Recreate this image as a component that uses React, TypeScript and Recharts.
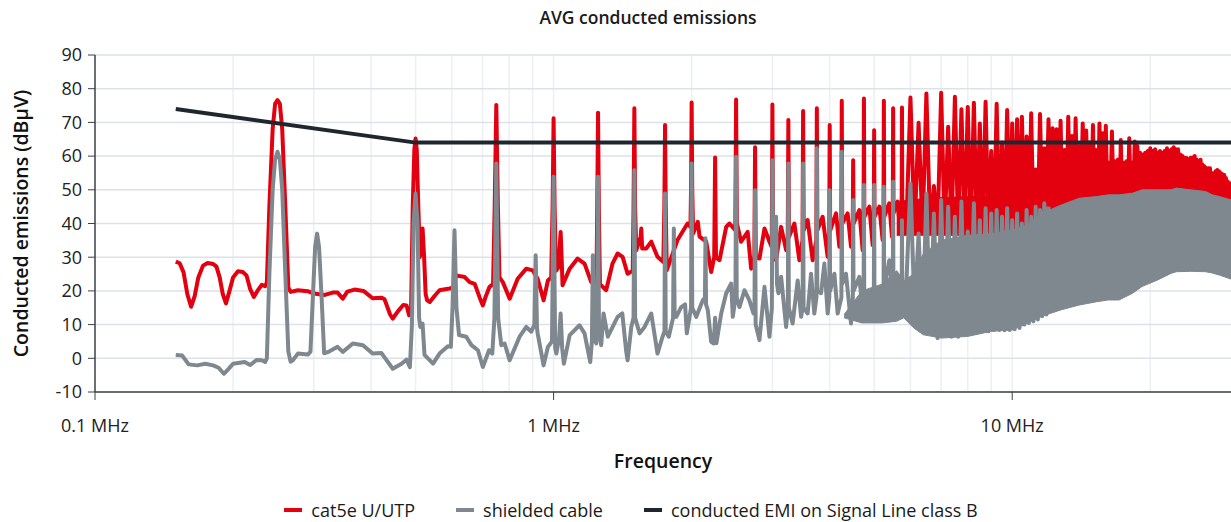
import React from "react"
import { ComposedChart, Line, Area, XAxis, YAxis, CartesianGrid } from "recharts"

type Pt = [number, number]
type Band = [number, number, number]

const seriesNames = ["cat5e U/UTP", "shielded cable", "conducted EMI on Signal Line class B"]
const seriesColors = ["#e3000f", "#7f888f", "#1f272e"]

const xTicks = [0.1, 1, 10]
const xTickLabels = ["0.1 MHz", "1 MHz", "10 MHz"]
const yTicks = [-10, 0, 10, 20, 30, 40, 50, 60, 70, 80, 90]
const gridFreqs = [0.2, 0.3, 0.4, 0.5, 0.6, 0.7, 0.8, 0.9, 1, 2, 3, 4, 5, 6, 7, 8, 9, 10, 20]

// limit line (dBµV), class B signal line, AVG
const limitLine: Pt[] = [[0.15, 74], [0.5, 64], [30, 64]]

const redTrace: Pt[] = [
  [0.15, 28.7], [0.153, 28.2], [0.156, 25.5], [0.159, 19], [0.162, 15.3], [0.165, 18.5], [0.168, 24],
  [0.172, 27.5], [0.176, 28.3], [0.181, 28], [0.184, 27.2], [0.187, 24], [0.19, 19], [0.193, 16.3],
  [0.196, 19.5], [0.2, 24], [0.205, 25.8], [0.21, 25.6], [0.214, 24.6], [0.218, 20.5], [0.222, 18.2],
  [0.226, 20], [0.231, 21.8], [0.235, 21.4], [0.237, 22.5], [0.24, 45], [0.244, 68], [0.247, 75.5],
  [0.25, 76.6], [0.253, 75.5], [0.256, 68], [0.26, 45], [0.264, 21], [0.267, 19.7], [0.277, 20.2],
  [0.291, 19.9], [0.3, 19.2], [0.317, 18.8], [0.33, 19.5], [0.338, 19.5], [0.347, 17.7], [0.355, 19.8],
  [0.368, 20.4], [0.385, 20], [0.403, 17.8], [0.421, 18], [0.428, 17.5], [0.44, 13], [0.446, 11.8],
  [0.458, 14], [0.47, 15.8], [0.478, 15.7], [0.484, 12.8], [0.489, 15], [0.493, 45], [0.497, 62],
  [0.5, 65.2], [0.503, 62], [0.507, 45], [0.511, 30], [0.515, 36], [0.518, 38.5], [0.522, 30],
  [0.526, 19], [0.53, 17.2], [0.537, 16.7], [0.55, 18.5], [0.564, 20.2], [0.593, 20.7], [0.606, 21],
  [0.612, 24.6], [0.64, 24.1], [0.656, 22.6], [0.673, 22.1], [0.69, 18], [0.701, 15.7], [0.712, 18.5],
  [0.725, 21.2], [0.738, 22], [0.744, 45], [0.75, 75.2], [0.756, 45], [0.762, 24], [0.775, 22.6],
  [0.802, 17.7], [0.835, 23.6], [0.872, 26.6], [0.9, 26.1], [0.923, 23.6], [0.951, 17.2], [0.972, 23.1],
  [0.988, 24], [0.995, 45], [1.0, 71.2], [1.005, 45], [1.012, 26], [1.025, 27], [1.031, 33],
  [1.036, 37.5], [1.041, 30], [1.046, 21.7], [1.084, 26.6], [1.128, 29.6], [1.168, 28.1], [1.208, 22.6],
  [1.24, 22], [1.245, 45], [1.25, 72.9], [1.255, 45], [1.262, 22], [1.302, 20.2], [1.344, 28.1],
  [1.379, 31.1], [1.414, 30.1], [1.45, 25.1], [1.488, 26], [1.494, 45], [1.5, 74.2], [1.506, 45],
  [1.514, 32], [1.548, 36], [1.553, 38.5], [1.56, 32.6], [1.592, 32.6], [1.633, 34.6], [1.685, 30.1],
  [1.735, 28.6], [1.744, 45], [1.75, 69.2], [1.756, 45], [1.765, 26.1], [1.863, 35.1], [1.959, 40],
  [1.988, 39], [1.994, 50], [2.0, 75.9], [2.006, 50], [2.015, 37], [2.063, 40.5], [2.081, 36.1],
  [2.152, 34.6], [2.206, 25.6], [2.24, 30], [2.25, 59.6], [2.26, 30], [2.3, 29.1], [2.379, 39],
  [2.418, 40], [2.49, 38], [2.5, 76.8], [2.51, 40], [2.564, 34.6], [2.65, 37.5], [2.696, 26.6],
  [2.74, 30], [2.75, 62.6], [2.76, 30], [2.811, 29.6], [2.883, 38.5], [2.956, 34.6], [2.99, 33],
  [3.0, 75.3], [3.01, 30], [3.056, 29.1], [3.134, 39], [3.214, 32.1], [3.24, 34], [3.25, 70.7],
  [3.26, 36], [3.35, 40], [3.435, 29.1], [3.49, 35], [3.5, 73.4], [3.51, 38], [3.581, 41],
  [3.672, 29.1], [3.74, 35], [3.75, 74.2], [3.76, 38], [3.861, 42], [3.959, 30.1], [3.99, 35],
  [4.0, 69.2], [4.01, 38], [4.13, 43], [4.199, 33.1], [4.24, 38], [4.25, 76.4], [4.26, 40],
  [4.377, 43], [4.452, 33.1], [4.49, 38], [4.5, 58.8], [4.51, 40], [4.642, 44], [4.719, 32.1],
  [4.74, 38], [4.75, 77.1], [4.76, 42], [4.881, 45], [4.963, 33.6], [4.99, 38], [5.0, 67.7],
  [5.01, 42], [5.132, 45], [5.218, 35.1], [5.24, 40], [5.25, 76.4], [5.26, 42], [5.395, 46],
  [5.468, 36.1], [5.49, 40], [5.5, 74.2], [5.51, 43], [5.625, 46.5], [5.702, 37], [5.74, 40],
  [5.75, 74.4], [5.76, 43], [5.875, 38],
]

// cat5e harmonic tops above 6 MHz
const redPeaks: Pt[] = [
  [6.0, 77.4], [6.25, 69.9], [6.5, 78.6], [6.75, 51.1], [7.0, 78.8], [7.25, 68.7], [7.5, 77.6],
  [7.75, 73.9], [8.0, 74.6], [8.25, 75.8], [8.5, 69.7], [8.75, 76.1], [9.0, 61.5], [9.25, 75.5],
  [9.5, 64], [9.75, 73.7], [10.0, 69.7], [10.25, 70.9], [10.5, 71.7], [10.75, 65.8], [11.0, 72.7],
  [11.25, 56], [11.5, 72.5], [11.75, 62.3], [12.0, 70.9], [12.25, 68.3], [12.5, 68], [12.75, 70.5],
  [13.0, 61.8], [13.25, 71.7], [13.5, 66], [13.75, 71.2], [14.0, 63], [14.25, 69.7], [14.5, 67.6],
  [14.75, 64], [15.0, 69.2], [15.25, 61.8], [15.5, 69.7], [15.75, 66.8], [16.0, 69], [16.25, 58],
  [16.5, 67.3], [16.75, 58.5], [17.0, 59], [17.25, 64.8], [17.5, 58], [17.75, 58.5], [18.0, 65.3],
  [18.25, 58], [18.5, 64.3], [18.75, 63], [19.0, 61], [19.25, 60.5], [19.5, 61], [19.75, 61.5],
  [20.0, 62.3], [20.25, 61.5], [20.5, 62], [20.75, 61], [21.0, 61.5], [21.25, 61], [21.5, 61.5],
  [21.75, 62.3], [22.0, 61.5], [22.25, 62], [22.5, 62.6], [22.75, 62], [23.0, 62], [23.25, 60.5],
  [23.5, 60], [23.75, 59.5], [24.0, 59.4], [24.25, 59], [24.5, 59.5], [24.75, 59.6], [25.0, 60],
  [25.25, 59], [25.5, 58.5], [25.75, 58.9], [26.0, 57.5], [26.25, 57], [26.5, 56.5], [26.75, 56.4],
  [27.0, 56.4], [27.25, 55], [27.5, 54.5], [27.75, 55.5], [28.0, 55.9], [28.25, 55.5], [28.5, 55],
  [28.75, 54.6], [29.0, 54.4], [29.25, 53.5], [29.5, 52.5], [29.75, 52], [30.0, 51.5],
]

// cat5e floor between harmonics above 6 MHz
const redValleys: Pt[] = [
  [6.125, 38], [6.375, 38], [6.625, 38], [6.875, 38], [7.125, 38], [7.375, 38], [7.625, 38],
  [7.875, 38], [8.125, 38], [8.375, 38], [8.625, 38], [8.875, 38], [9.125, 38], [9.375, 38],
  [9.625, 38.5], [9.875, 38.5], [10.125, 38.5], [10.375, 39], [10.625, 39], [10.875, 39],
  [11.125, 40], [11.375, 40], [11.625, 44], [11.875, 44], [12.125, 44], [12.375, 44], [12.625, 44],
  [12.875, 44], [13.125, 44], [13.375, 45], [13.625, 45], [13.875, 45], [14.125, 46], [14.375, 46],
  [14.625, 46], [14.875, 46], [15.125, 46], [15.375, 46], [15.625, 46], [15.875, 46], [16.125, 47],
  [16.375, 47], [16.625, 47], [16.875, 47], [17.125, 39], [17.375, 47], [17.625, 39.5], [17.875, 47],
  [18.125, 47], [18.375, 47], [18.625, 47], [18.875, 47], [19.125, 47], [19.375, 47], [19.625, 47],
  [19.875, 47], [20.125, 47], [20.375, 47], [20.625, 47], [20.875, 47], [21.125, 47], [21.375, 47],
  [21.625, 47], [21.875, 47], [22.125, 47], [22.375, 47], [22.625, 47], [22.875, 47], [23.125, 47],
  [23.375, 47], [23.625, 47], [23.875, 47], [24.125, 47], [24.375, 47], [24.625, 47], [24.875, 47],
  [25.125, 47], [25.375, 47], [25.625, 47], [25.875, 47], [26.125, 47], [26.375, 47], [26.625, 47],
  [26.875, 47], [27.125, 47], [27.375, 47], [27.625, 47], [27.875, 47], [28.125, 46], [28.375, 46],
  [28.625, 46], [28.875, 46], [29.125, 46], [29.375, 46], [29.625, 46], [29.875, 46],
]

// dense part of the cat5e trace: [MHz, low, high]
const redBand: Band[] = [
  [5.6, 36.5, 46.5], [6.5, 36.5, 47.5], [8.0, 36.5, 48], [10.0, 37, 48], [11.3, 38, 49], [11.6, 40, 50],
]

const grayTrace: Pt[] = [
  [0.15, 1], [0.155, 0.8], [0.16, -1.8], [0.167, -2.1], [0.174, -1.6], [0.181, -2.1], [0.186, -2.8],
  [0.191, -4.6], [0.196, -3], [0.2, -1.6], [0.212, -1.1], [0.218, -2], [0.225, -0.5], [0.231, -0.6],
  [0.235, -1.1], [0.237, 0], [0.24, 25], [0.244, 50], [0.247, 59], [0.25, 61.3], [0.253, 59],
  [0.256, 50], [0.26, 25], [0.264, 2], [0.267, -1], [0.27, -0.6], [0.277, 1.4], [0.291, 1.1],
  [0.295, 2], [0.299, 20], [0.302, 33], [0.305, 37], [0.308, 33], [0.312, 18], [0.316, 1.5],
  [0.324, 2], [0.338, 3.4], [0.347, 1.9], [0.365, 4.4], [0.384, 3.9], [0.403, 1.4], [0.421, 1.6],
  [0.446, -3.1], [0.466, -1.6], [0.478, -0.4], [0.486, -2.6], [0.491, 10], [0.495, 40], [0.5, 48.9],
  [0.505, 40], [0.509, 12], [0.512, 9.3], [0.518, 10.3], [0.523, 1], [0.546, -1.6], [0.564, 1.4],
  [0.588, 3.6], [0.597, 3.4], [0.602, 15], [0.608, 38], [0.614, 15], [0.622, 6.9], [0.645, 6.4],
  [0.662, 3.9], [0.684, 2.4], [0.701, -2.6], [0.723, 2.4], [0.735, 1.4], [0.743, 12], [0.75, 57.8],
  [0.757, 12], [0.769, 3.9], [0.782, 4.4], [0.802, -0.6], [0.843, 6.4], [0.872, 9.3], [0.894, 7.9],
  [0.908, 10], [0.914, 30.6], [0.92, 9], [0.923, 7.4], [0.951, -2.1], [0.972, 3.4], [0.992, 5],
  [1.0, 53.9], [1.008, 3], [1.014, 1.4], [1.028, 6], [1.036, 13.3], [1.044, 3], [1.053, -1.6],
  [1.084, 6.9], [1.139, 9.8], [1.168, 7.4], [1.202, -1.1], [1.212, 5], [1.218, 30.6], [1.226, 6],
  [1.239, 4.4], [1.244, 10], [1.25, 53.9], [1.256, 8], [1.27, 3.9], [1.285, 13.3], [1.313, 6.4],
  [1.379, 12.3], [1.412, 13.3], [1.44, 2], [1.45, -0.6], [1.477, 9.3], [1.494, 12], [1.5, 55.8],
  [1.506, 12], [1.54, 7.4], [1.579, 9.3], [1.633, 13.3], [1.685, 1.4], [1.728, 6.4], [1.745, 8],
  [1.75, 48.9], [1.756, 8], [1.783, 6.4], [1.822, 12], [1.829, 38.5], [1.836, 14], [1.851, 12.3],
  [1.898, 15.2], [1.935, 16], [1.952, 7.4], [1.979, 12.3], [1.994, 15], [2.0, 57.8], [2.006, 15],
  [2.047, 12.3], [2.115, 17.2], [2.138, 18], [2.144, 35.6], [2.15, 16], [2.169, 14.3], [2.206, 4.9],
  [2.235, 4.4], [2.25, 12], [2.265, 4.5], [2.32, 13.3], [2.379, 19.3], [2.439, 22.2], [2.459, 12.3],
  [2.492, 18], [2.5, 59.8], [2.508, 18], [2.543, 15.2], [2.607, 20.2], [2.673, 17.2], [2.728, 13.3],
  [2.742, 15], [2.75, 49.9], [2.758, 10], [2.811, 5.4], [2.883, 21.2], [2.956, 6.4], [2.992, 15],
  [3.0, 58.8], [3.01, 30], [3.056, 42], [3.07, 22], [3.092, 19.3], [3.134, 24.2], [3.214, 9.3],
  [3.242, 15], [3.25, 57.8], [3.258, 15], [3.321, 10.3], [3.406, 23.1], [3.465, 12.3], [3.492, 15],
  [3.5, 57.8], [3.508, 15], [3.581, 13.3], [3.642, 25.1], [3.703, 13.3], [3.742, 18], [3.75, 62.3],
  [3.758, 20], [3.83, 19.3], [3.894, 28.1], [3.959, 13.3], [3.992, 18], [4.0, 49.9], [4.008, 20],
  [4.095, 25.1], [4.163, 13.3], [4.242, 18], [4.25, 61.3], [4.258, 22], [4.341, 25.1], [4.452, 10.3],
  [4.492, 18], [4.5, 47], [4.508, 20], [4.642, 24.2], [4.719, 14], [4.742, 16], [4.75, 51.4],
  [4.758, 16], [4.881, 12.3], [4.992, 16], [5.0, 51.4], [5.008, 16], [5.132, 13.3], [5.242, 18],
  [5.25, 50.9], [5.258, 20], [5.395, 29.1], [5.492, 20], [5.5, 52.4], [5.508, 20], [5.673, 20.2],
  [5.742, 20], [5.75, 41], [5.758, 20], [5.867, 19.3],
]

const grayPeaks: Pt[] = [
  [6.0, 51.9], [6.25, 37], [6.5, 48.9], [6.75, 43], [7.0, 47], [7.25, 45], [7.5, 42], [7.75, 46.5],
  [8.0, 37.6], [8.25, 46], [8.5, 41], [8.75, 44.5], [9.0, 43], [9.25, 44], [9.5, 42], [9.75, 44.5],
  [10.0, 41], [10.25, 43], [10.5, 40], [10.75, 44], [11.0, 42], [11.25, 45], [11.5, 44], [11.75, 46],
  [12.0, 45],
]

const grayValleys: Pt[] = [
  [6.125, 14], [6.375, 9], [6.625, 7.4], [6.875, 6], [7.125, 7.4], [7.375, 6.4], [7.625, 6.4],
  [7.875, 7.4], [8.125, 8.4], [8.375, 8], [8.625, 8.2], [8.875, 8], [9.125, 8.4], [9.375, 8.4],
  [9.625, 8.3], [9.875, 8.4], [10.125, 8.6], [10.375, 9], [10.625, 10], [10.875, 10.5], [11.125, 11],
  [11.375, 11.5], [11.625, 12.5], [11.875, 13],
]

// dense part of the shielded trace: [MHz, low, high]
const grayBand: Band[] = [
  [4.3, 12, 13], [4.7, 10.5, 20], [5.2, 10.5, 22], [5.6, 11, 26], [5.8, 12, 23], [6.1, 9, 25],
  [6.4, 7, 31], [7.0, 6, 35], [8.0, 6.5, 36.5], [9.0, 8, 37], [10.0, 8.4, 38], [10.8, 10.4, 39.5],
  [11.6, 12.5, 43], [12.8, 14.4, 45.5], [14.0, 15.8, 47.5], [15.3, 16.8, 48], [16.2, 17.3, 48.5],
  [17.1, 17.3, 48.5], [18.3, 19.3, 49], [19.2, 21.3, 50], [20.8, 23.3, 50], [22.2, 25.2, 50],
  [22.8, 25.7, 50.5], [24.5, 25.8, 50], [26.4, 25.7, 49.5], [27.3, 25.3, 48.5], [28.3, 24.7, 48],
  [30.0, 23.5, 47],
]

const toRows = (pts: Pt[]) => [...pts].sort((a, b) => a[0] - b[0]).map(([f, v]) => ({ f, v }))
const toBandRows = (pts: Band[]) => pts.map(([f, lo, hi]) => ({ f, band: [lo, hi] }))

const redRows = toRows([...redTrace, ...redPeaks, ...redValleys])
const grayRows = toRows([...grayTrace, ...grayPeaks, ...grayValleys])
const limitRows = toRows(limitLine)
const redBandRows = toBandRows(redBand)
const grayBandRows = toBandRows(grayBand)

const font = "'Open Sans', 'DejaVu Sans', sans-serif"
const axisColor = "#3b4046"

export default function App() {
  return (
    <div style={{ position: "absolute", left: 0, top: 0, width: 1231, height: 522, background: "#fff", fontFamily: font }}>
      <div style={{ position: "absolute", top: 5, left: 40, width: 1216, textAlign: "center", fontSize: 17.5, fontWeight: 600, color: "#1a1a1a" }}>
        AVG conducted emissions
      </div>
      <ComposedChart width={1231} height={522} margin={{ top: 55, right: 0, bottom: 80, left: 0 }} style={{ fontFamily: font }}>
        <CartesianGrid horizontal={false} vertical verticalValues={gridFreqs} stroke="#eceff4" strokeWidth={1.5} />
        <CartesianGrid horizontal vertical={false} stroke="#dde2ea" strokeWidth={1.5} />
        <XAxis
          type="number"
          dataKey="f"
          scale="log"
          domain={[0.1, 30]}
          allowDataOverflow
          ticks={xTicks}
          interval={0}
          tickFormatter={(v: number) => xTickLabels[xTicks.indexOf(v)] ?? String(v)}
          height={50}
          tickSize={8}
          tickMargin={19}
          axisLine={{ stroke: axisColor, strokeWidth: 1.5 }}
          tickLine={{ stroke: axisColor }}
          tick={{ fill: "#222", fontSize: 18 }}
          label={{ value: "Frequency", position: "bottom", offset: 12, fill: "#111", fontSize: 19.5, fontWeight: 600 }}
        />
        <YAxis
          type="number"
          domain={[-10, 90]}
          ticks={yTicks}
          interval={0}
          width={95}
          tickSize={7}
          tickMargin={6}
          axisLine={{ stroke: axisColor, strokeWidth: 1.5 }}
          tickLine={{ stroke: axisColor }}
          tick={{ fill: "#222", fontSize: 18 }}
          label={{
            value: "Conducted emissions (dBμV)",
            angle: -90,
            position: "insideLeft",
            offset: 21,
            style: { textAnchor: "middle" },
            fill: "#111",
            fontSize: 19.5,
            fontWeight: 600,
          }}
        />
        <Area data={redBandRows} dataKey="band" type="linear" stroke={seriesColors[0]} strokeWidth={1} fill={seriesColors[0]} fillOpacity={1} dot={false} activeDot={false} isAnimationActive={false} zIndex={101} />
        <Line data={redRows} dataKey="v" name={seriesNames[0]} type="linear" stroke={seriesColors[0]} strokeWidth={4} strokeLinejoin="round" dot={false} activeDot={false} isAnimationActive={false} zIndex={102} />
        <Area data={grayBandRows} dataKey="band" type="linear" stroke={seriesColors[1]} strokeWidth={1} fill={seriesColors[1]} fillOpacity={1} dot={false} activeDot={false} isAnimationActive={false} zIndex={103} />
        <Line data={grayRows} dataKey="v" name={seriesNames[1]} type="linear" stroke={seriesColors[1]} strokeWidth={4} strokeLinejoin="round" dot={false} activeDot={false} isAnimationActive={false} zIndex={104} />
        <Line data={limitRows} dataKey="v" name={seriesNames[2]} type="linear" stroke={seriesColors[2]} strokeWidth={4} dot={false} activeDot={false} isAnimationActive={false} zIndex={105} />
      </ComposedChart>
      <div style={{ position: "absolute", top: 498, left: 0, width: 1262, display: "flex", justifyContent: "center", gap: 41, fontSize: 18, color: "#1a1a1a" }}>
        {seriesNames.map((name, i) => (
          <div key={name} style={{ display: "flex", alignItems: "center" }}>
            <span style={{ display: "inline-block", width: 18, height: 4, background: seriesColors[i], marginRight: 9 }} />
            <span>{name}</span>
          </div>
        ))}
      </div>
    </div>
  )
}
